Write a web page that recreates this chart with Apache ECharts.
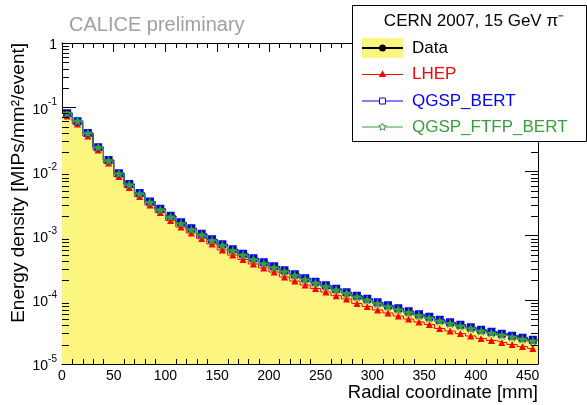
<!DOCTYPE html>
<html>
<head>
<meta charset="utf-8">
<script src="https://cdn.jsdelivr.net/npm/echarts@6/dist/echarts.min.js"></script>
<style>
html,body{margin:0;padding:0;background:#fff;}
#chart{width:587px;height:405px;}
</style>
</head>
<body>
<div id="chart"></div>
<script>
// ---- data ----
const radius = [5,15,25,35,45,55,65,75,85,95,105,115,125,135,145,155,165,175,185,195,205,215,225,235,245,255,265,275,285,295,305,315,325,335,345,355,365,375,385,395,405,415,425,435,445,455];

const dataVals = [0.0812,0.0610,0.0396,0.0240,0.01505,0.00944,0.00636,0.00461,0.00340,0.00260,0.00202,0.00160,0.00129,0.00106,0.000869,0.000727,0.000607,0.000517,0.000440,0.000381,0.000330,0.000286,0.000248,0.000215,0.000189,0.000167,0.000147,0.000130,0.000115,0.000103,0.0000908,0.0000815,0.0000732,0.0000657,0.0000590,0.0000540,0.0000485,0.0000443,0.0000405,0.0000370,0.0000339,0.0000315,0.0000293,0.0000273,0.0000254,0.0000236];

const lhepVals = [0.0729,0.0548,0.0356,0.0216,0.0135,0.00833,0.00561,0.00407,0.00300,0.00229,0.00172,0.00136,0.00110,0.000902,0.000740,0.000597,0.000498,0.000424,0.000361,0.000313,0.000271,0.000227,0.000196,0.000170,0.000150,0.000132,0.000116,0.000103,0.0000879,0.0000787,0.0000694,0.0000623,0.0000559,0.0000502,0.0000451,0.0000413,0.0000357,0.0000326,0.0000298,0.0000273,0.0000250,0.0000232,0.0000216,0.0000201,0.0000187,0.0000174];

const qgspBertVals = [0.0805,0.0605,0.0395,0.0238,0.0150,0.0094,0.00635,0.00460,0.00340,0.00261,0.00203,0.00161,0.00130,0.00107,0.000875,0.000732,0.000612,0.000521,0.000444,0.000384,0.000333,0.000289,0.000250,0.000217,0.000191,0.000168,0.000148,0.000131,0.000116,0.000104,0.0000915,0.0000822,0.0000738,0.0000663,0.0000596,0.0000545,0.0000490,0.0000447,0.0000409,0.0000374,0.0000342,0.0000318,0.0000296,0.0000276,0.0000257,0.0000239];

const qgspFtfpBertVals = [0.0795,0.0598,0.0388,0.0233,0.0145,0.0091,0.00612,0.00442,0.00325,0.00248,0.00192,0.00152,0.00122,0.00101,0.000826,0.000691,0.000577,0.000491,0.000418,0.000362,0.000314,0.000272,0.000236,0.000204,0.000180,0.000159,0.000140,0.000124,0.000109,0.0000979,0.0000863,0.0000774,0.0000695,0.0000624,0.0000561,0.0000513,0.0000461,0.0000421,0.0000385,0.0000352,0.0000322,0.0000299,0.0000278,0.0000259,0.0000241,0.0000224];

const xTicks = [0,50,100,150,200,250,300,350,400,450];
const yDecades = [-5,-4,-3,-2,-1,0];
const seriesNames = ['Data','LHEP','QGSP_BERT','QGSP_FTFP_BERT'];
const legendHeader = 'CERN 2007, 15 GeV \u03c0\u207b';
const titleText = 'CALICE preliminary';
const xTitle = 'Radial coordinate [mm]';
const yTitle = 'Energy density [MIPs/mm\u00b2/event]';

// ---- derived helpers ----
const FONT = "'Liberation Sans', Arial, Helvetica, sans-serif";
const binW = radius[1] - radius[0];
const xMin = radius[0] - binW / 2;
const xMax = radius[radius.length - 1] + binW / 2;
const yMin = Math.pow(10, yDecades[0]);
const yMax = Math.pow(10, yDecades[yDecades.length - 1]);

const histEdges = radius.map((r, i) => [r - binW / 2, dataVals[i]]);
histEdges.push([xMax, dataVals[dataVals.length - 1]]);

const xMinorTicks = [];
for (let v = xMin + binW; v < xMax; v += binW) {
  if (xTicks.indexOf(v) < 0) xMinorTicks.push([v, yMin]);
}
const yMinorTicks = [];
for (let d = yDecades[0]; d < yDecades[yDecades.length - 1]; d++) {
  for (let m = 2; m <= 9; m++) yMinorTicks.push([xMin, m * Math.pow(10, d)]);
}

const GREEN = '#3a9e3a';
const YELLOW = '#fcf680';

const pair = (vals) => radius.map((r, i) => [r, vals[i]]);
function crisp(v) { return Math.round(v) + 0.5; }

function starPoints(cx, cy, R, r) {
  const pts = [];
  for (let k = 0; k < 10; k++) {
    const a = -Math.PI / 2 + k * Math.PI / 5;
    const rr = k % 2 === 0 ? R : r;
    pts.push([cx + rr * Math.cos(a), cy + rr * Math.sin(a)]);
  }
  return pts;
}

const chart = echarts.init(document.getElementById('chart'), null, {renderer: 'canvas'});

// legend geometry (drawn with graphic elements)
const lg = {x: 352.5, y: 5.5, w: 234, h: 136, lineX1: 362, lineX2: 403, textX: 412, rows: [48, 74.5, 101, 127]};
const lgMid = (lg.lineX1 + lg.lineX2) / 2;

const legendColors = ['#000', '#ff0000', '#0000ff', GREEN];
const graphics = [
  {type: 'rect', z: 100, shape: {x: lg.x, y: lg.y, width: lg.w, height: lg.h}, style: {fill: '#fff', stroke: '#000', lineWidth: 1}},
  {type: 'text', z: 101, x: 474, y: 21, style: {text: legendHeader, font: '17px ' + FONT, fill: '#000', align: 'center', verticalAlign: 'middle', textAlign: 'center', textVerticalAlign: 'middle'}},
  {type: 'rect', z: 101, shape: {x: lg.lineX1, y: lg.rows[0] - 10, width: lg.lineX2 - lg.lineX1, height: 20}, style: {fill: YELLOW}},
  {type: 'text', z: 101, x: 19, y: 43, rotation: Math.PI / 2, style: {text: yTitle, font: '19px ' + FONT, fill: '#000', align: 'right', verticalAlign: 'middle', textAlign: 'right', textVerticalAlign: 'middle'}},
  {type: 'text', z: 101, x: 538, y: 393, style: {text: xTitle, font: '18.5px ' + FONT, fill: '#000', align: 'right', verticalAlign: 'middle', textAlign: 'right', textVerticalAlign: 'middle'}}
];
seriesNames.forEach((name, i) => {
  const y = lg.rows[i];
  graphics.push({type: 'line', z: 102, shape: {x1: lg.lineX1, y1: y, x2: lg.lineX2, y2: y}, style: {stroke: legendColors[i], lineWidth: i === 0 ? 2 : 1}});
  graphics.push({type: 'text', z: 102, x: lg.textX, y: y, style: {text: name, font: '17px ' + FONT, fill: legendColors[i], align: 'left', verticalAlign: 'middle', textAlign: 'left', textVerticalAlign: 'middle'}});
});
graphics.push({type: 'circle', z: 103, shape: {cx: lgMid, cy: lg.rows[0], r: 3.5}, style: {fill: '#000'}});
graphics.push({type: 'polygon', z: 103, shape: {points: [[lgMid, lg.rows[1] - 4], [lgMid + 3.8, lg.rows[1] + 2.5], [lgMid - 3.8, lg.rows[1] + 2.5]]}, style: {fill: '#ff0000'}});
graphics.push({type: 'rect', z: 103, shape: {x: lgMid - 3, y: lg.rows[2] - 3, width: 6, height: 6}, style: {fill: '#fff', stroke: '#0000ff', lineWidth: 1}});
graphics.push({type: 'polygon', z: 103, shape: {points: starPoints(lgMid, lg.rows[3], 4, 1.8)}, style: {fill: '#fff', stroke: GREEN, lineWidth: 1}});

function stepLine(name, vals, color, z) {
  return {name: name + ' line', type: 'line', data: pair(vals), step: 'middle', symbol: 'none',
          lineStyle: {color: color, width: 1}, z: z, silent: true};
}
function markers(name, vals, color, symbol, size, z) {
  return {name: name, type: 'scatter', data: pair(vals), symbol: symbol, symbolSize: size,
          itemStyle: {color: color, opacity: 1}, z: z};
}

const option = {
  animation: false,
  backgroundColor: '#fff',
  textStyle: {fontFamily: FONT},
  title: {text: titleText, left: 64, top: 10, textStyle: {fontFamily: FONT, fontSize: 20, fontWeight: 'normal', color: '#a0a0a0'}},
  grid: {left: 62, right: 49, top: 43, bottom: 41, containLabel: false, outerBoundsMode: 'none'},
  xAxis: [
    {type: 'value', position: 'bottom', min: xMin, max: xMax, interval: 50,
     axisLine: {show: true, onZero: false, lineStyle: {color: '#000', width: 1}},
     axisTick: {show: true, inside: true, length: 10, lineStyle: {color: '#000'}},
     axisLabel: {fontFamily: FONT, fontSize: 14, color: '#000', margin: 5,
       formatter: (v) => (xTicks.indexOf(v) >= 0 ? String(v) : '')},
     splitLine: {show: false}},
    {type: 'value', position: 'top', min: xMin, max: xMax, interval: 50,
     axisLine: {show: true, onZero: false, lineStyle: {color: '#000', width: 1}},
     axisTick: {show: true, inside: true, length: 9, lineStyle: {color: '#000'}},
     axisLabel: {show: false}, splitLine: {show: false}}
  ],
  yAxis: [
    {type: 'log', logBase: 10, position: 'left', min: yMin, max: yMax,
     axisLine: {show: true, onZero: false, lineStyle: {color: '#000', width: 1}},
     axisTick: {show: true, inside: true, length: 14, lineStyle: {color: '#000'}},
     axisLabel: {fontFamily: FONT, color: '#000', margin: 5, padding: [5, 0, 0, 0],
       formatter: (v) => {
         const e = Math.round(Math.log10(v));
         return e === 0 ? '{b|1}' : '{b|10}{sup|' + e + '}';
       },
       rich: {
         b: {fontFamily: FONT, fontSize: 14, lineHeight: 14, color: '#000', verticalAlign: 'bottom'},
         sup: {fontFamily: FONT, fontSize: 10, lineHeight: 10, color: '#000', verticalAlign: 'bottom', padding: [0, 0, 9, 0]}
       }},
     splitLine: {show: false}},
    {type: 'log', logBase: 10, position: 'right', min: yMin, max: yMax,
     axisLine: {show: true, onZero: false, lineStyle: {color: '#000', width: 1}},
     axisTick: {show: true, inside: true, length: 13, lineStyle: {color: '#000'}},
     axisLabel: {show: false}, splitLine: {show: false}}
  ],
  graphic: {elements: graphics},
  series: [
    {name: 'Data histogram', type: 'line', data: histEdges, step: 'end',
     symbol: 'none', lineStyle: {color: '#000', width: 1},
     areaStyle: {color: YELLOW, opacity: 1, origin: 'start'}, z: 2, silent: true},
    markers(seriesNames[0], dataVals, '#000', 'circle', 7, 3),
    stepLine(seriesNames[1], lhepVals, '#ff0000', 4),
    markers(seriesNames[1], lhepVals, '#ff0000', 'triangle', 7, 5),
    stepLine(seriesNames[2], qgspBertVals, '#0000ff', 6),
    {name: seriesNames[2], type: 'custom', z: 7, data: pair(qgspBertVals),
     renderItem: (params, api) => {
       const p = api.coord([api.value(0), api.value(1)]);
       return {type: 'rect', shape: {x: p[0] - 3, y: p[1] - 3, width: 6, height: 6},
               style: {fill: 'none', stroke: '#0000ff', lineWidth: 2}};
     }},
    stepLine(seriesNames[3], qgspFtfpBertVals, GREEN, 8),
    {name: seriesNames[3], type: 'custom', z: 9, data: pair(qgspFtfpBertVals),
     renderItem: (params, api) => {
       const p = api.coord([api.value(0), api.value(1)]);
       return {type: 'polygon', shape: {points: starPoints(p[0], p[1], 4.8, 2.1)},
               style: {fill: GREEN, stroke: GREEN, lineWidth: 0.5}};
     }},
    {name: 'x minor ticks', type: 'custom', clip: false, silent: true, z: 10, data: xMinorTicks,
     renderItem: (params, api) => {
       const b = api.coord([api.value(0), yMin]);
       const t = api.coord([api.value(0), yMax]);
       const x = crisp(b[0]);
       return {type: 'group', children: [
         {type: 'line', shape: {x1: x, y1: b[1], x2: x, y2: b[1] - 5}, style: {stroke: '#000', lineWidth: 1}},
         {type: 'line', shape: {x1: x, y1: t[1], x2: x, y2: t[1] + 5}, style: {stroke: '#000', lineWidth: 1}}
       ]};
     }},
    {name: 'y minor ticks', type: 'custom', clip: false, silent: true, z: 10, data: yMinorTicks,
     renderItem: (params, api) => {
       const l = api.coord([xMin, api.value(1)]);
       const r = api.coord([xMax, api.value(1)]);
       const y = crisp(l[1]);
       return {type: 'group', children: [
         {type: 'line', shape: {x1: l[0], y1: y, x2: l[0] + 7, y2: y}, style: {stroke: '#000', lineWidth: 1}},
         {type: 'line', shape: {x1: r[0], y1: y, x2: r[0] - 7, y2: y}, style: {stroke: '#000', lineWidth: 1}}
       ]};
     }}
  ]
};
chart.setOption(option);
</script>
</body>
</html>
